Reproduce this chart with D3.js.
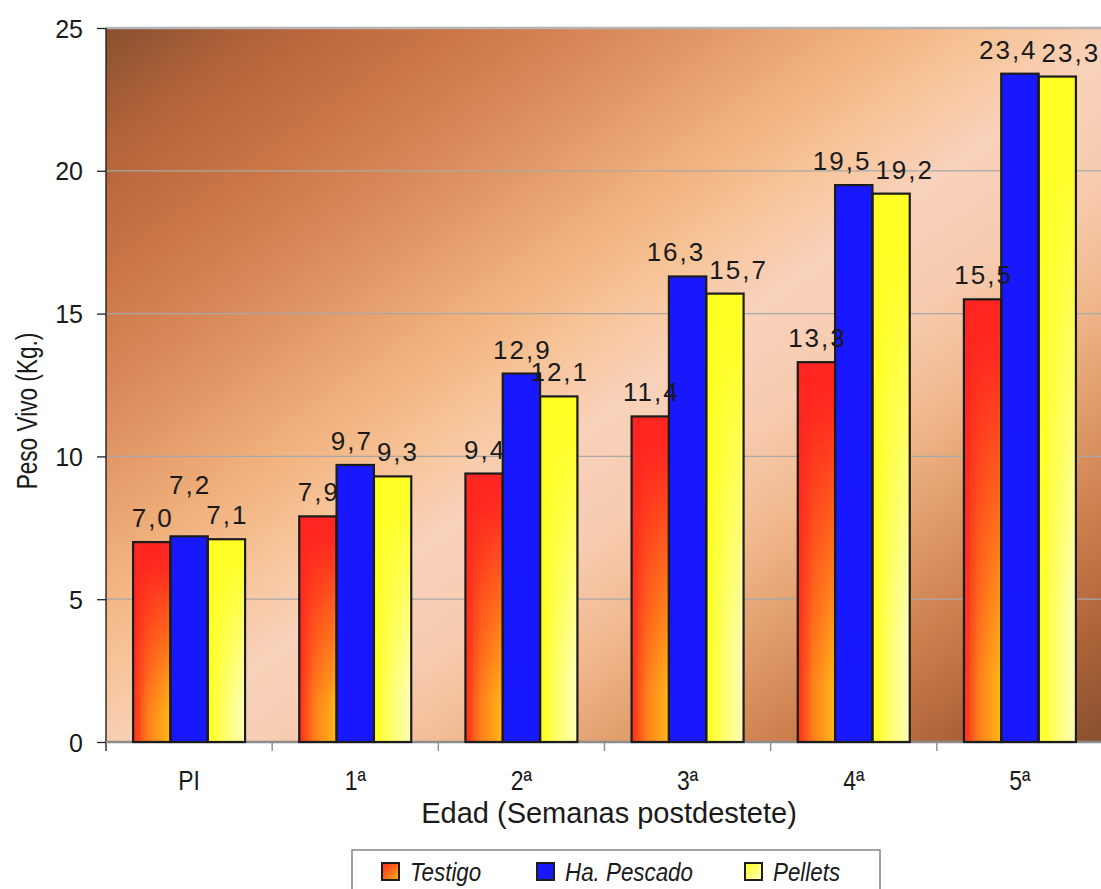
<!DOCTYPE html>
<html>
<head>
<meta charset="utf-8">
<script src="https://cdn.jsdelivr.net/npm/d3@7/dist/d3.min.js"></script>
<style>
  html, body { margin: 0; padding: 0; background: #ffffff; }
  svg { display: block; }
  text { font-family: "Liberation Sans", Arial, sans-serif; fill: #1a1a1a; }
</style>
</head>
<body>
<svg id="chart" width="1101" height="889"></svg>
<script>
// Live weight per week after weaning, three diets
const categories = ["PI", "1ª", "2ª", "3ª", "4ª", "5ª"];
const seriesNames = ["Testigo", "Ha. Pescado", "Pellets"];
const testigo = [7.0, 7.9, 9.4, 11.4, 13.3, 15.5];
const pescado = [7.2, 9.7, 12.9, 16.3, 19.5, 23.4];
const pellets = [7.1, 9.3, 12.1, 15.7, 19.2, 23.3];
const yTicks = [0, 5, 10, 15, 20, 25];
const yTitle = "Peso Vivo (Kg.)";
const xTitle = "Edad (Semanas postdestete)";

const seriesValues = [testigo, pescado, pellets];
const fills = ["url(#gradRed)", "#1818ff", "url(#gradYellow)"];
const swatchFills = ["url(#gradRedSw)", "#1818ff", "url(#gradYellowSw)"];

const svg = d3.select("#chart");
const plotLeft = 106, plotRight = 1103, plotTop = 28, plotBottom = 742;

const x = d3.scaleBand().domain(categories).range([plotLeft, plotRight])
  .paddingInner(0.326).paddingOuter(0.163);
const xs = d3.scaleBand().domain(seriesNames).range([0, x.bandwidth()]);
const y = d3.scaleLinear().domain([0, 25]).range([plotBottom, plotTop]);

const defs = svg.append("defs");

// plot background: diagonal brown -> pale peach -> brown
const bg = defs.append("linearGradient").attr("id", "gradBg")
  .attr("x1", 0).attr("y1", 0).attr("x2", 1).attr("y2", 1);
[[0, "#87502f"], [0.08, "#b2633a"], [0.18, "#cc7646"], [0.28, "#dd9060"],
 [0.38, "#f0b07c"], [0.45, "#f7c498"], [0.52, "#f9d2bb"], [0.6, "#f7ccb0"],
 [0.68, "#f1b98e"], [0.76, "#e09c6a"], [0.84, "#cc7d4c"], [0.92, "#ad6339"],
 [1, "#87502f"]]
  .forEach(([o, c]) => bg.append("stop").attr("offset", o).attr("stop-color", c));

function hGrad(id, stops) {
  const g = defs.append("linearGradient").attr("id", id)
    .attr("x1", 0).attr("y1", 0).attr("x2", 1).attr("y2", 0);
  stops.forEach(([o, c]) => g.append("stop").attr("offset", o).attr("stop-color", c));
}
function vFade(id, color, endOffset) {
  const g = defs.append("linearGradient").attr("id", id)
    .attr("x1", 0).attr("y1", 0).attr("x2", 0).attr("y2", 1);
  g.append("stop").attr("offset", 0).attr("stop-color", color).attr("stop-opacity", 1);
  g.append("stop").attr("offset", 0.12).attr("stop-color", color).attr("stop-opacity", 0.95);
  g.append("stop").attr("offset", endOffset).attr("stop-color", color).attr("stop-opacity", 0);
}
hGrad("gradRed", [[0, "#ff2a1c"], [0.08, "#ff3a1c"], [0.4, "#ff7e1a"], [1, "#ffb81a"]]);
vFade("fadeRed", "#ff2420", 0.85);
hGrad("gradYellow", [[0, "#ffff24"], [0.15, "#ffff30"], [0.5, "#ffff70"], [1, "#ffffb8"]]);
vFade("fadeYellow", "#ffff24", 0.8);

function dGrad(id, stops) {
  const g = defs.append("linearGradient").attr("id", id)
    .attr("x1", 0).attr("y1", 0).attr("x2", 1).attr("y2", 1);
  stops.forEach(([o, c]) => g.append("stop").attr("offset", o).attr("stop-color", c));
}
dGrad("gradRedSw", [[0, "#ff2a1c"], [0.5, "#ff6a1a"], [1, "#ffb81a"]]);
dGrad("gradYellowSw", [[0, "#ffff24"], [0.5, "#ffff70"], [1, "#ffffc0"]]);

// background
svg.append("rect").attr("x", plotLeft).attr("y", plotTop)
  .attr("width", plotRight - plotLeft).attr("height", plotBottom - plotTop)
  .attr("fill", "url(#gradBg)");

// gridlines
svg.append("g").selectAll("line").data(yTicks.filter(d => d > 0)).join("line")
  .attr("x1", plotLeft).attr("x2", plotRight)
  .attr("y1", d => y(d)).attr("y2", d => y(d))
  .attr("stroke", d => d === 25 ? "#b4b4b4" : "#a8a8a8")
  .attr("stroke-width", d => d === 25 ? 2.5 : 1.2);

// y axis
const yAxis = svg.append("g").attr("transform", `translate(${plotLeft},0)`)
  .call(d3.axisLeft(y).tickValues(yTicks).tickSize(9).tickPadding(14).tickFormat(d3.format("d")));
yAxis.select(".domain").remove();
yAxis.selectAll(".tick line").attr("stroke", "#222").attr("stroke-width", 1.3);
yAxis.selectAll(".tick text").attr("font-family", "Liberation Sans, Arial, sans-serif")
  .attr("font-size", 25).attr("fill", "#1a1a1a").attr("dy", "0.36em");
svg.append("line").attr("x1", plotLeft).attr("x2", plotLeft).attr("y1", plotTop).attr("y2", plotBottom + 9)
  .attr("stroke", "#222").attr("stroke-width", 1.4);

// x axis
const boundaries = categories.map(c => x(c) - x.step() * x.paddingInner() / 2);
svg.append("line").attr("x1", plotLeft).attr("x2", plotRight).attr("y1", plotBottom).attr("y2", plotBottom)
  .attr("stroke", "#8c8c8c").attr("stroke-width", 2.5);
svg.append("g").selectAll("line").data(boundaries.slice(1)).join("line")
  .attr("x1", d => d).attr("x2", d => d).attr("y1", plotBottom).attr("y2", plotBottom + 9)
  .attr("stroke", "#8c8c8c").attr("stroke-width", 1.4);
svg.append("g").selectAll("text").data(categories).join("text")
  .attr("transform", d => `translate(${x(d) + x.bandwidth() / 2},790) scale(0.85,1)`)
  .attr("text-anchor", "middle").attr("font-size", 27)
  .text(d => d);

svg.append("text")
  .attr("x", 609).attr("y", 823).attr("text-anchor", "middle")
  .attr("font-size", 29).text(xTitle);

svg.append("text")
  .attr("transform", "translate(37,411) rotate(-90) scale(0.78,1)")
  .attr("text-anchor", "middle").attr("font-size", 29)
  .text(yTitle);

// bars
const rows = categories.map((c, i) => ({
  cat: c,
  vals: seriesNames.map((s, k) => ({ s, k, v: seriesValues[k][i] }))
}));
const groups = svg.append("g").selectAll("g").data(rows).join("g")
  .attr("transform", d => `translate(${x(d.cat)},0)`);

groups.selectAll("rect.bar").data(d => d.vals).join("rect").attr("class", "bar")
  .attr("x", d => xs(d.s)).attr("width", xs.bandwidth())
  .attr("y", d => y(d.v)).attr("height", d => y(0) - y(d.v))
  .attr("fill", d => fills[d.k]);
// top-down tint so each gradient bar starts solid at its top
groups.selectAll("rect.fade").data(d => d.vals.filter(v => v.k !== 1)).join("rect").attr("class", "fade")
  .attr("x", d => xs(d.s)).attr("width", xs.bandwidth())
  .attr("y", d => y(d.v)).attr("height", d => y(0) - y(d.v))
  .attr("fill", d => d.k === 0 ? "url(#fadeRed)" : "url(#fadeYellow)");
groups.selectAll("rect.edge").data(d => d.vals).join("rect").attr("class", "edge")
  .attr("x", d => xs(d.s)).attr("width", xs.bandwidth())
  .attr("y", d => y(d.v)).attr("height", d => y(0) - y(d.v))
  .attr("fill", "none").attr("stroke", "#1c1c1c").attr("stroke-width", 2.2);

// value labels: lift a middle label boxed in by both neighbours,
// otherwise nudge colliding neighbours sideways
const fmt = v => d3.format(".1f")(v).replace(".", ",");
const gap = 15;
groups.each(function (d) {
  const g = d3.select(this);
  const labels = d.vals.map(v => {
    const t = g.append("text")
      .attr("font-size", 26).attr("letter-spacing", 2)
      .attr("text-anchor", "middle").text(fmt(v.v));
    const w = t.node().getComputedTextLength();
    return { t, w, cx: xs(v.s) + xs.bandwidth() / 2, by: y(v.v) - gap };
  });
  const clash = (a, b) => Math.abs(a.by - b.by) < 22 &&
    (a.w + b.w) / 2 + 4 > Math.abs(b.cx - a.cx);
  if (clash(labels[0], labels[1]) && clash(labels[1], labels[2])) {
    labels[1].by = Math.min(labels[0].by, labels[2].by) - 30;
  }
  for (let iter = 0; iter < 6; iter++) {
    for (let i = 0; i < labels.length - 1; i++) {
      const a = labels[i], b = labels[i + 1];
      if (Math.abs(a.by - b.by) < 22) {
        const need = (a.w + b.w) / 2 + 4 - (b.cx - a.cx);
        if (need > 0) { a.cx -= need / 2; b.cx += need / 2; }
      }
    }
  }
  labels.forEach(l => l.t.attr("x", l.cx + 1).attr("y", l.by));
});

// legend
const lg = svg.append("g");
lg.append("rect").attr("x", 352).attr("y", 850).attr("width", 528).attr("height", 50)
  .attr("fill", "#ffffff").attr("stroke", "#7a7a7a").attr("stroke-width", 1.4);
const legendX = [382, 537, 745];
seriesNames.forEach((s, k) => {
  lg.append("rect").attr("x", legendX[k]).attr("y", 863).attr("width", 17).attr("height", 17)
    .attr("fill", swatchFills[k]).attr("stroke", "#1c1c1c").attr("stroke-width", 2);
  lg.append("text").attr("font-style", "italic")
    .attr("transform", `translate(${legendX[k] + 28},881) scale(0.86,1)`)
    .attr("font-size", 26)
    .text(s);
});
</script>
</body>
</html>
